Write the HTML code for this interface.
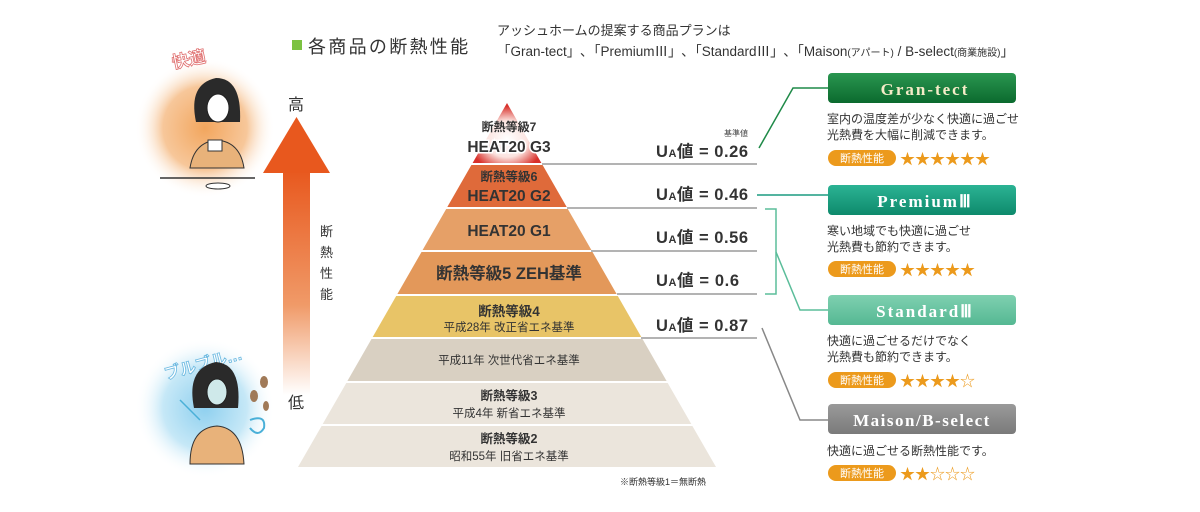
<!DOCTYPE html>
<html><head><meta charset="utf-8"><style>
html,body{margin:0;padding:0;background:#fff;}
svg{display:block;}
text{font-family:"Liberation Sans","Noto Sans CJK JP",sans-serif;}
</style></head><body>
<svg width="1200" height="512" viewBox="0 0 1200 512" xmlns="http://www.w3.org/2000/svg">
<defs>
<radialGradient id="warm" cx="50%" cy="50%" r="50%">
<stop offset="0" stop-color="#f2a65e"/><stop offset="0.6" stop-color="#f7c79a"/><stop offset="1" stop-color="#fff" stop-opacity="0"/>
</radialGradient>
<radialGradient id="cool" cx="50%" cy="50%" r="50%">
<stop offset="0" stop-color="#8fd0ef"/><stop offset="0.6" stop-color="#c6e8f7"/><stop offset="1" stop-color="#fff" stop-opacity="0"/>
</radialGradient>
<linearGradient id="shaft" x1="0" y1="0" x2="0" y2="1">
<stop offset="0" stop-color="#e8581e"/><stop offset="0.6" stop-color="#f09a68"/><stop offset="1" stop-color="#fff"/>
</linearGradient>
<radialGradient id="g3" cx="50%" cy="60%" r="55%">
<stop offset="0" stop-color="#fff"/><stop offset="0.55" stop-color="#fbe3df"/><stop offset="1" stop-color="#d8302a"/>
</radialGradient>
<linearGradient id="gGreen" x1="0" y1="0" x2="0" y2="1"><stop offset="0" stop-color="#2a9650"/><stop offset="1" stop-color="#0b6a2e"/></linearGradient>
<linearGradient id="gTeal" x1="0" y1="0" x2="0" y2="1"><stop offset="0" stop-color="#2bb394"/><stop offset="1" stop-color="#0e8a6c"/></linearGradient>
<linearGradient id="gMint" x1="0" y1="0" x2="0" y2="1"><stop offset="0" stop-color="#7fd0b0"/><stop offset="1" stop-color="#55b893"/></linearGradient>
<linearGradient id="gGray" x1="0" y1="0" x2="0" y2="1"><stop offset="0" stop-color="#9a9a9a"/><stop offset="1" stop-color="#7a7a7a"/></linearGradient>
</defs>

<circle cx="205" cy="128" r="70" fill="url(#warm)"/>
<circle cx="205" cy="408" r="70" fill="url(#cool)"/>
<text x="172" y="65" font-size="17" fill="#fff" stroke="#e07070" stroke-width="0.8" font-weight="bold" transform="rotate(-12 190 60)">快適</text>
<path d="M196 122 q-8 -38 20 -44 q26 0 24 44 z" fill="#2a2a2a"/>
<ellipse cx="218" cy="108" rx="11" ry="14" fill="#fff" stroke="#222"/>
<path d="M190 168 q4 -26 27 -28 q23 2 27 28 z" fill="#e8b27a" stroke="#333"/>
<rect x="208" y="140" width="14" height="11" fill="#fff" stroke="#333"/>
<line x1="160" y1="178" x2="255" y2="178" stroke="#333" stroke-width="1.5"/>
<ellipse cx="218" cy="186" rx="12" ry="3" fill="#fff" stroke="#333"/>
<text x="163" y="373" font-size="16" fill="#fff" stroke="#6ab8e0" stroke-width="0.8" font-weight="bold" transform="rotate(-15 190 365)">ブルブル…</text>
<path d="M194 408 q-8 -40 22 -46 q26 2 22 46 z" fill="#2a2a2a"/>
<ellipse cx="217" cy="392" rx="10" ry="13" fill="#cfe9ea" stroke="#222"/>
<path d="M190 464 q0 -36 27 -38 q25 2 27 38 z" fill="#e8b27a" stroke="#333"/>
<path d="M250 420 q16 -6 14 8 q-6 10 -14 0" fill="none" stroke="#4ab0d8" stroke-width="2"/>
<line x1="180" y1="400" x2="200" y2="420" stroke="#4ab0d8" stroke-width="1.5"/>
<ellipse cx="264" cy="382" rx="4" ry="6" fill="#a07a58"/>
<ellipse cx="254" cy="396" rx="4" ry="6" fill="#a07a58"/>
<ellipse cx="266" cy="406" rx="3" ry="5" fill="#a07a58"/>

<rect x="283" y="170" width="27" height="225" fill="url(#shaft)"/>
<polygon points="296.5,117 263,173 330,173" fill="#e8581e"/>
<text x="288" y="110" font-size="16" fill="#333">高</text>
<text x="288" y="408" font-size="16" fill="#333">低</text>
<g font-size="13" fill="#333">
<text x="320" y="236">断</text><text x="320" y="257">熱</text><text x="320" y="278">性</text><text x="320" y="299">能</text>
</g>

<rect x="292" y="40" width="10" height="10" fill="#7cc242"/>
<text x="308" y="53" font-size="18" fill="#333" letter-spacing="2.3">各商品の断熱性能</text>
<text x="497" y="35" font-size="13" fill="#333">アッシュホームの提案する商品プランは</text>
<text x="497" y="56" font-size="13.5" fill="#333">「Gran-tect」､「PremiumⅢ」､「StandardⅢ」､「Maison<tspan font-size="10">(アパート)</tspan> / B-select<tspan font-size="10">(商業施設)</tspan>」</text>

<polygon points="507,103 541.4,163 472.6,163" fill="url(#g3)"/>
<polygon points="471.4,165 542.6,165 566.7,207 447.3,207" fill="#df6a3a"/>
<polygon points="446.2,209 567.8,209 591.4,250 422.6,250" fill="#e6a067"/>
<polygon points="421.5,252 592.5,252 616.6,294 397.4,294" fill="#e3985a"/>
<polygon points="396.2,296 617.8,296 641.3,337 372.7,337" fill="#e8c467"/>
<polygon points="371.5,339 642.5,339 666.6,381 347.4,381" fill="#d9d0c2"/>
<polygon points="346.3,383 667.7,383 691.3,424 322.7,424" fill="#ebe5dc"/>
<polygon points="321.6,426 692.4,426 716,467 298,467" fill="#ebe5dc"/>

<g font-weight="bold" fill="#333" text-anchor="middle">
<text x="509" y="131" font-size="12">断熱等級7</text>
<text x="509" y="152" font-size="15.5" stroke="#fff" stroke-width="3" paint-order="stroke">HEAT20 G3</text>
<text x="509" y="181" font-size="12.5">断熱等級6</text>
<text x="509" y="201" font-size="15.5">HEAT20 G2</text>
<text x="509" y="236" font-size="15.5">HEAT20 G1</text>
<text x="509" y="279" font-size="16.5">断熱等級5  ZEH基準</text>
<text x="509" y="316" font-size="13.5">断熱等級4</text>
<text x="509" y="400" font-size="12.5">断熱等級3</text>
<text x="509" y="443" font-size="12.5">断熱等級2</text>
</g>
<g fill="#333" text-anchor="middle" font-size="11.5">
<text x="509" y="331">平成28年  改正省エネ基準</text>
<text x="509" y="364">平成11年  次世代省エネ基準</text>
<text x="509" y="417">平成4年  新省エネ基準</text>
<text x="509" y="460">昭和55年  旧省エネ基準</text>
</g>
<text x="620" y="485" font-size="9" fill="#333">※断熱等級1＝無断熱</text>

<g stroke="#9a9a9a" stroke-width="1.5">
<line x1="542" y1="164" x2="757" y2="164"/>
<line x1="567" y1="208" x2="757" y2="208"/>
<line x1="591" y1="251" x2="757" y2="251"/>
<line x1="617" y1="294" x2="757" y2="294"/>
<line x1="641" y1="338" x2="757" y2="338"/>
</g>
<text x="748" y="136" font-size="8" fill="#444" text-anchor="end">基準値</text>
<g font-size="16.5" font-weight="bold" fill="#333">
<text x="656" y="157" textLength="92">U<tspan font-size="11">A</tspan>値 = 0.26</text>
<text x="656" y="200" textLength="92">U<tspan font-size="11">A</tspan>値 = 0.46</text>
<text x="656" y="243" textLength="92">U<tspan font-size="11">A</tspan>値 = 0.56</text>
<text x="656" y="286" textLength="83">U<tspan font-size="11">A</tspan>値 = 0.6</text>
<text x="656" y="331" textLength="92">U<tspan font-size="11">A</tspan>値 = 0.87</text>
</g>

<polyline points="759,148 793,88 828,88" fill="none" stroke="#1f8a48" stroke-width="1.5"/>
<line x1="757" y1="195" x2="828" y2="195" stroke="#1c9c80" stroke-width="1.5"/>
<polyline points="765,209 776,209 776,294 765,294" fill="none" stroke="#5bbd9a" stroke-width="1.5"/>
<polyline points="776,252 800,310 828,310" fill="none" stroke="#5bbd9a" stroke-width="1.5"/>
<polyline points="762,328 800,420 828,420" fill="none" stroke="#888" stroke-width="1.5"/>

<g font-size="17" font-weight="bold" fill="#fff" text-anchor="middle" letter-spacing="2">
<rect x="828" y="73" width="188" height="30" rx="4" fill="url(#gGreen)"/>
<text x="925" y="95" fill="#f5ecc8" style="font-family:'Liberation Serif',serif">Gran-tect</text>
<rect x="828" y="185" width="188" height="30" rx="4" fill="url(#gTeal)"/>
<text x="925" y="207" style="font-family:'Liberation Serif',serif">PremiumⅢ</text>
<rect x="828" y="295" width="188" height="30" rx="4" fill="url(#gMint)"/>
<text x="925" y="317" style="font-family:'Liberation Serif',serif">StandardⅢ</text>
<rect x="828" y="404" width="188" height="30" rx="4" fill="url(#gGray)"/>
<text x="922" y="426" style="font-family:'Liberation Serif',serif" letter-spacing="1.5">Maison/B-select</text>
</g>
<g font-size="12" fill="#333">
<text x="827" y="123">室内の温度差が少なく快適に過ごせ</text>
<text x="827" y="139">光熱費を大幅に削減できます。</text>
<text x="827" y="235">寒い地域でも快適に過ごせ</text>
<text x="827" y="251">光熱費も節約できます。</text>
<text x="827" y="345">快適に過ごせるだけでなく</text>
<text x="827" y="361">光熱費も節約できます。</text>
<text x="827" y="455">快適に過ごせる断熱性能です。</text>
</g>
<g>
<rect x="828" y="150" width="68" height="16" rx="8" fill="#ec9a1c"/>
<rect x="828" y="261" width="68" height="16" rx="8" fill="#ec9a1c"/>
<rect x="828" y="372" width="68" height="16" rx="8" fill="#ec9a1c"/>
<rect x="828" y="465" width="68" height="16" rx="8" fill="#ec9a1c"/>
</g>
<g font-size="11" fill="#fff" text-anchor="middle">
<text x="862" y="162">断熱性能</text><text x="862" y="273">断熱性能</text>
<text x="862" y="384">断熱性能</text><text x="862" y="477">断熱性能</text>
</g>
<g font-size="15" fill="#ec9a1c" style="font-family:'DejaVu Sans',sans-serif">
<text x="900" y="164">★★★★★★</text>
<text x="900" y="275">★★★★★</text>
<text x="900" y="386">★★★★☆</text>
<text x="900" y="479">★★☆☆☆</text>
</g>
</svg>
</body></html>
